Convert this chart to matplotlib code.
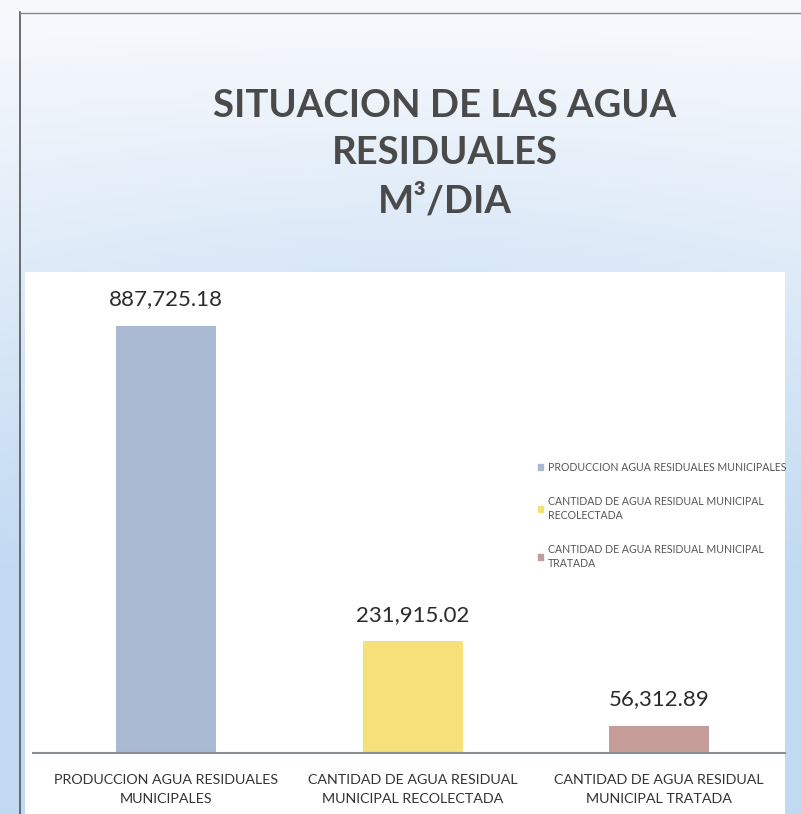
import matplotlib
matplotlib.use("Agg")
import matplotlib.pyplot as plt
import numpy as np
from matplotlib.patches import Rectangle

categories = ["PRODUCCION AGUA RESIDUALES\nMUNICIPALES",
              "CANTIDAD DE AGUA RESIDUAL\nMUNICIPAL RECOLECTADA",
              "CANTIDAD DE AGUA RESIDUAL\nMUNICIPAL TRATADA"]
legend_labels = ["PRODUCCION AGUA RESIDUALES MUNICIPALES",
                 "CANTIDAD DE AGUA RESIDUAL MUNICIPAL\nRECOLECTADA",
                 "CANTIDAD DE AGUA RESIDUAL MUNICIPAL\nTRATADA"]
values = [887725.18, 231915.02, 56312.89]
value_labels = ["887,725.18", "231,915.02", "56,312.89"]
colors = ["#a9b9d1", "#f6e07a", "#c69c98"]
title = "SITUACION DE LAS AGUA\nRESIDUALES\nM³/DIA"

W, H = 801, 814
fig = plt.figure(figsize=(W/100, H/100), dpi=100)

# background gradient
bg = fig.add_axes([0, 0, 1, 1], zorder=0)
bg.set_axis_off()
yy, xx = np.mgrid[0:1:200j, 0:1:200j]
t = np.clip(yy * 1.5 + 0.35 * np.sin(np.pi * xx) * yy - 0.05, 0, 1)
c0 = np.array([0.965, 0.975, 0.99])
c1 = np.array([0.76, 0.855, 0.95])
img = c0[None, None, :] * (1 - t[..., None]) + c1[None, None, :] * t[..., None]
bg.imshow(img, extent=[0, 1, 0, 1], origin="upper", aspect="auto")
bg.set_xlim(0, 1); bg.set_ylim(0, 1)
# white chart area
bg.add_patch(Rectangle((25/W, 0), (785-25)/W, (H-272)/H, facecolor="white", edgecolor="none"))
# outer frame lines
bg.plot([20/W, 20/W], [0, 1-12/H], color="#555555", lw=1.2)
bg.plot([20/W, 1], [1-13/H, 1-13/H], color="#888888", lw=1.0)

# main axes
ax_l, ax_r = 33, 785
ax_b, ax_t = 753, 272
ax = fig.add_axes([ax_l/W, 1-ax_b/H, (ax_r-ax_l)/W, (ax_b-ax_t)/H], zorder=2)
ax.patch.set_alpha(0)
x = np.arange(len(values))
ax.bar(x, values, width=0.405, color=colors)
ax.set_xlim(-0.54, 2.51)
ax.set_ylim(0, 1_000_000)
for s in ["top", "right", "left"]:
    ax.spines[s].set_visible(False)
ax.spines["bottom"].set_color("#8a8f96")
ax.spines["bottom"].set_linewidth(1.5)
ax.set_yticks([])
ax.set_xticks(x)
ax.set_xticklabels(categories, fontsize=10.3, family="Lato", color="#333333", linespacing=1.75)
ax.tick_params(axis="x", length=0, pad=15)
for xi, v, lab in zip(x, values, value_labels):
    ax.annotate(lab, (xi, v), xytext=(0, 12), textcoords="offset points",
                ha="center", va="bottom", fontsize=16, family="Lato", color="#2a2a2a")

handles = [Rectangle((0, 0), 1, 1, color=c) for c in colors]
leg = fig.legend(handles, legend_labels, loc="upper left",
                 bbox_to_anchor=(528/W, 1-452/H), frameon=False,
                 prop={"family": "Lato", "size": 7.6}, handlelength=0.5,
                 handleheight=0.5, handletextpad=0.45, labelspacing=2.2)
for t_ in leg.get_texts():
    t_.set_color("#555555")
    t_.set_linespacing(1.35)

fig.text(445/W, 1-89/H, title, ha="center", va="top", fontsize=27.5, fontweight="bold",
         family="Lato", color="#4a4a4a", linespacing=1.47)

fig.savefig("out.png", dpi=100)
